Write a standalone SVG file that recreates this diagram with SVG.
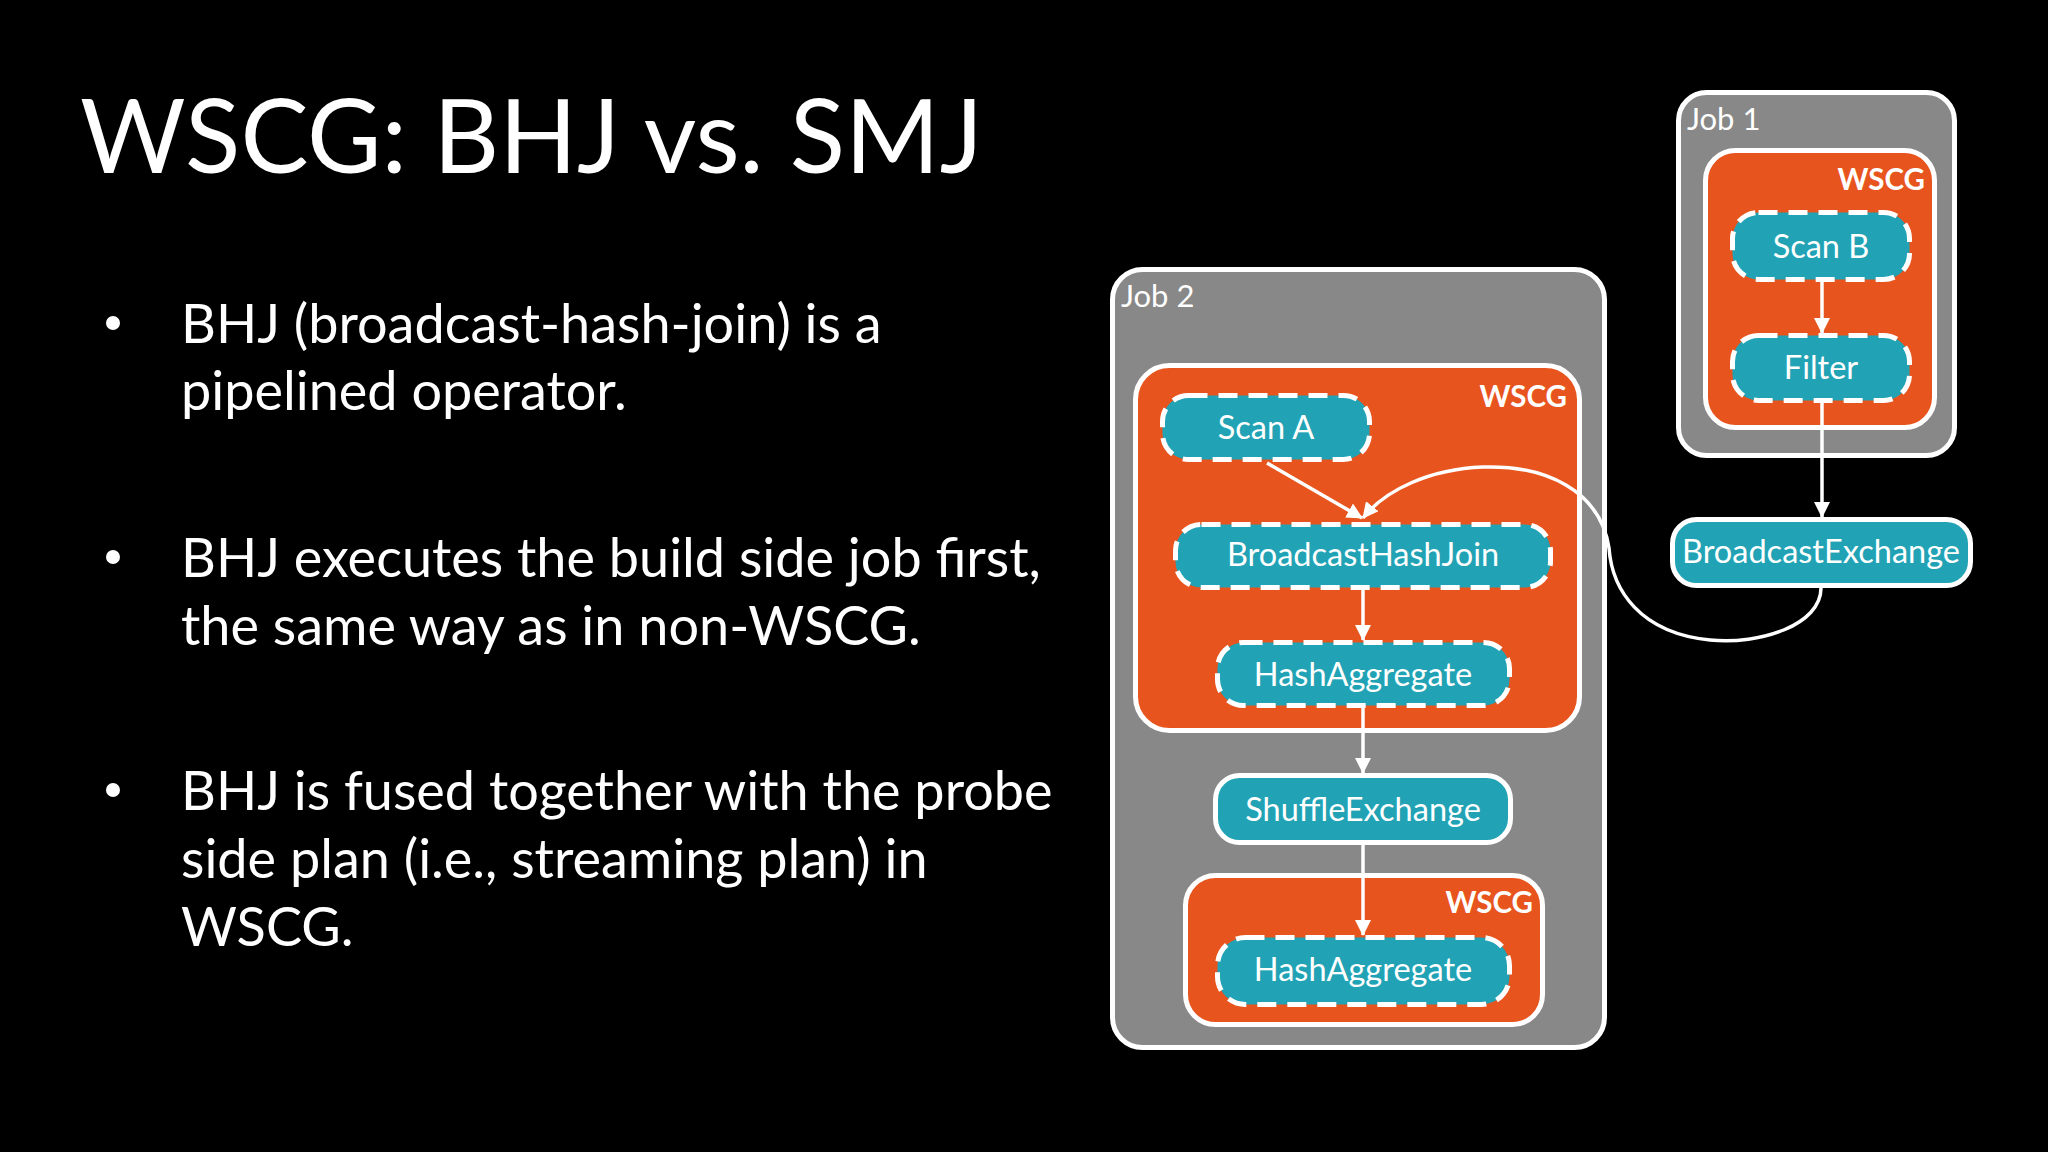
<svg xmlns="http://www.w3.org/2000/svg" width="2048" height="1152" viewBox="0 0 2048 1152">
<defs>
<style>
.bg{fill:#000}
.job{fill:#888888;stroke:#fff;stroke-width:5}
.wscg{fill:#E8541D;stroke:#fff;stroke-width:5}
.op{fill:#21A3B5;stroke:#fff;stroke-width:5;stroke-dasharray:19 11}
.ex{fill:#21A3B5;stroke:#fff;stroke-width:5}
.t{font-family:Lato,"Open Sans",sans-serif;fill:#fff}
.title{font-size:102px}
.body{font-size:54px}
.lbl{font-size:32.5px;text-anchor:middle}
.job-lbl{font-size:31px}
.wl{font-size:29.5px;font-weight:bold;text-anchor:end}
.c{fill:none;stroke:#fff;stroke-width:3.5}
</style>
<marker id="ah" markerUnits="userSpaceOnUse" markerWidth="16" markerHeight="16" refX="15" refY="8" orient="auto">
<path d="M0,0 L16,8 L0,16 z" fill="#fff"/>
</marker>
</defs>
<rect class="bg" x="0" y="0" width="2048" height="1152"/>

<g id="title"><text class="t title" x="80" y="173">WSCG: BHJ vs. SMJ</text></g>

<g id="bullets">
<circle cx="113" cy="323" r="7" fill="#fff"/>
<text class="t body" x="181" y="343">BHJ (broadcast-hash-join) is a</text>
<text class="t body" x="181" y="410">pipelined operator.</text>
<circle cx="113" cy="557" r="7" fill="#fff"/>
<text class="t body" x="181" y="577">BHJ executes the build side job first,</text>
<text class="t body" x="181" y="645">the same way as in non-WSCG.</text>
<circle cx="113" cy="790" r="7" fill="#fff"/>
<text class="t body" x="181" y="810">BHJ is fused together with the probe</text>
<text class="t body" x="181" y="878">side plan (i.e., streaming plan) in</text>
<text class="t body" x="181" y="946">WSCG.</text>
</g>

<g id="job2">
<rect class="job" x="1112.5" y="269.5" width="492" height="778" rx="30"/>
<text class="t job-lbl" x="1121" y="307">Job 2</text>
</g>
<g id="wscg-a">
<rect class="wscg" x="1135.5" y="365.5" width="444" height="365" rx="34"/>
<text class="t wl" x="1567" y="407">WSCG</text>
</g>
<g id="wscg-b">
<rect class="wscg" x="1185.5" y="875.5" width="357" height="149" rx="30"/>
<text class="t wl" x="1533" y="913">WSCG</text>
</g>
<g id="scan-a">
<rect class="op" x="1162.5" y="395.5" width="207" height="64" rx="26"/>
<text class="t lbl" x="1266" y="439">Scan A</text>
</g>
<g id="bhj">
<rect class="op" x="1175.5" y="524.5" width="375" height="63" rx="26"/>
<text class="t lbl" x="1363" y="566">BroadcastHashJoin</text>
</g>
<g id="hashagg-1">
<rect class="op" x="1217.5" y="642.5" width="292" height="63" rx="26"/>
<text class="t lbl" x="1363" y="686">HashAggregate</text>
</g>
<g id="shuffle">
<rect class="ex" x="1215.5" y="775.5" width="295" height="67" rx="24"/>
<text class="t lbl" x="1363" y="821">ShuffleExchange</text>
</g>
<g id="hashagg-2">
<rect class="op" x="1217.5" y="937.5" width="292" height="67" rx="28"/>
<text class="t lbl" x="1363" y="981">HashAggregate</text>
</g>

<g id="job1">
<rect class="job" x="1678.5" y="92.5" width="276" height="363" rx="28"/>
<text class="t job-lbl" x="1687" y="130">Job 1</text>
</g>
<g id="wscg-c">
<rect class="wscg" x="1705.5" y="150.5" width="229" height="277" rx="30"/>
<text class="t wl" x="1925" y="190">WSCG</text>
</g>
<g id="scan-b">
<rect class="op" x="1732.5" y="212.5" width="177" height="67" rx="26"/>
<text class="t lbl" x="1821" y="258">Scan B</text>
</g>
<g id="filter">
<rect class="op" x="1732.5" y="335.5" width="177" height="65" rx="26"/>
<text class="t lbl" x="1821" y="379">Filter</text>
</g>
<g id="broadcast-exchange">
<rect class="ex" x="1672.5" y="519.5" width="298" height="66" rx="24"/>
<text class="t lbl" x="1821" y="563">BroadcastExchange</text>
</g>

<g id="connectors">
<path class="c" d="M1267,463 L1362,518" marker-end="url(#ah)"/>
<path class="c" d="M1821,588 C1821,625 1760,645 1710,640 C1640,633 1612,590 1609,548 C1600,490 1545,465 1483,467 C1430,469 1385,490 1363,518" marker-end="url(#ah)"/>
<path class="c" d="M1363,590 L1363,640" marker-end="url(#ah)"/>
<path class="c" d="M1363,708 L1363,773" marker-end="url(#ah)"/>
<path class="c" d="M1363,845 L1363,935" marker-end="url(#ah)"/>
<path class="c" d="M1822,282 L1822,333" marker-end="url(#ah)"/>
<path class="c" d="M1822,403 L1822,517" marker-end="url(#ah)"/>
</g>
</svg>
